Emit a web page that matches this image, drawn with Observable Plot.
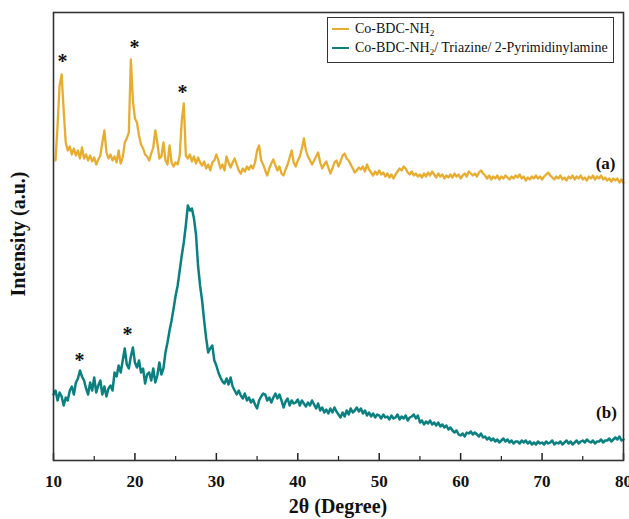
<!DOCTYPE html>
<html><head><meta charset="utf-8">
<script src="https://cdn.jsdelivr.net/npm/d3@7"></script>
<script src="https://cdn.jsdelivr.net/npm/@observablehq/plot@0.6"></script>
<style>
body{margin:0;background:#fff;}
#wrap{position:relative;width:629px;height:519px;overflow:hidden;}
.serif{font-family:"Liberation Serif","Times New Roman",serif;color:#111;}
.legend{position:absolute;left:327px;top:17px;width:287px;height:46px;border:1px solid #333;box-sizing:border-box;background:#fff;font-size:14px;}
.row{position:absolute;left:0;height:18px;display:flex;align-items:center;white-space:nowrap;}
.sw{display:inline-block;width:17px;height:2px;margin-left:4px;margin-right:6px;}
sub{font-size:9px;vertical-align:-3px;line-height:0;}
.ytitle{position:absolute;left:18px;top:234px;transform:translate(-50%,-50%) rotate(-90deg);font-size:20px;font-weight:bold;white-space:nowrap;}
.xtitle{position:absolute;left:338px;top:506px;transform:translate(-50%,-50%);font-size:20px;font-weight:bold;white-space:nowrap;}
</style>
</head><body>
<div id="wrap"></div>
<script>
// Shared 2θ sampling grid (degrees): 10.00, 10.25, ... 80.00 (4 readings per degree)
const twoTheta = d3.range(0, 281).map(i => 10 + i * 0.25);
// Series A: Co-BDC-NH2 intensity (a.u.), one line per degree
const yellowInt = [
null,300,335,375, 386,350,318,310, 314,306,312,305, 310,302,313,302, 306,300,305,299,
303,296,301,305, 318,330,308,302, 306,300,304,298, 310,297,303,318, 322,328,401,360,
342,338,325,316, 312,306,304,300, 307,313,330,318, 302,304,318,300, 296,315,298,294,
298,296,305,340, 357,305,302,306, 299,304,297,303, 298,295,299,292, 296,290,298,300,
306,300,292,296, 290,304,298,293, 298,302,296,290, 287,292,289,294, 291,295,292,298,
310,315,300,296, 290,285,292,297, 301,295,290,294, 287,285,291,296, 303,310,298,294,
300,304,312,322, 310,304,300,296, 300,304,308,298, 292,296,299,293, 287,292,298,300,
294,299,305,307, 302,300,296,292, 288,290,293,291, 294,289,296,291, 288,285,289,286,
290,286,288,284, 287,283,286,282, 286,289,292,290, 294,292,288,286, 289,285,287,284,
286,283,287,284, 288,285,289,286, 283,287,284,286, 282,285,283,286, 283,287,284,286,
282,285,287,284, 289,287,285,287, 284,288,290,287, 285,282,285,281, 284,282,285,281,
284,282,285,283, 281,284,282,285, 283,286,282,284, 280,283,281,284, 282,285,282,284,
281,284,286,288, 285,283,281,284, 282,285,281,283, 280,284,282,285, 281,284,282,285,
281,283,280,284, 282,285,281,284, 282,285,281,283, 280,282,279,282, 280,282,278,281,
278];
// Series B: Co-BDC-NH2/ Triazine/ 2-Pyrimidinylamine intensity (a.u.)
const tealInt = [
66,70,60,68, 64,55,63,60, 70,74,66,78, 82,90,84,80, 72,66,78,70,
83,68,75,80, 66,74,64,72, 75,70,88,84, 95,88,100,112, 96,92,104,113,
98,93,100,88, 92,77,86,88, 80,92,78,85, 98,86,92,108, 118,130,140,152,
165,175,190,205, 218,235,255,250, 252,242,226,195, 175,160,140,122, 108,112,115,100,
95,88,83,79, 77,82,76,83, 74,70,66,70, 65,62,67,60, 63,58,61,56,
52,60,64,67, 66,60,63,58, 63,67,62,66, 60,53,59,62, 55,60,57,58,
61,55,60,57, 54,58,55,60, 56,52,57,50, 53,48,51,47, 52,48,53,49,
46,43,48,44, 50,46,52,48, 50,53,49,52, 47,50,45,48, 44,47,43,46,
45,42,46,43, 44,41,45,42, 43,46,41,44, 42,45,40,43, 44,46,42,45,
38,40,36,39, 37,40,36,38, 35,38,34,36, 33,35,31,33, 30,28,30,26,
25,27,24,28, 27,29,26,28, 26,24,27,23, 24,21,23,20, 22,19,21,18,
20,22,19,21, 18,20,17,19, 19,17,20,18, 20,17,19,16, 18,16,19,17,
18,16,19,17, 18,20,16,18, 17,19,16,18, 20,17,19,16, 18,20,17,19,
20,18,21,19, 18,20,17,19, 19,21,18,20, 20,22,19,21, 23,21,24,20,
21];
// Peak markers (*)
const starDeg = [11.1,19.95,25.85,13.2,19.1];
const starInt = [403,417,372,104,130];
// Curve labels
const tagText = ["(a)","(b)"];
const tagDeg = [77.8,77.9];
const tagInt = [297,48];
const xTicks = [10,20,30,40,50,60,70,80];
const xMinor = [15,25,35,45,55,65,75];
const seriesNames = ["Co-BDC-NH<sub>2</sub>","Co-BDC-NH<sub>2</sub>/ Triazine/ 2-Pyrimidinylamine"];
const seriesColors = ["#E8AC2E","#0B8080"];
const xTitle = "2θ (Degree)";
const yTitle = "Intensity (a.u.)";

const yellow = twoTheta.map((d,i)=>({x:d,y:yellowInt[i]}));
const teal = twoTheta.map((d,i)=>({x:d,y:tealInt[i]}));
const stars = starDeg.map((d,i)=>({x:d,y:starInt[i]}));
const tags = tagText.map((t,i)=>({t,x:tagDeg[i],y:tagInt[i]}));
const serif = '"Liberation Serif","Times New Roman",serif';

const chart = Plot.plot({
  width:629, height:519,
  marginLeft:53, marginRight:6, marginTop:12, marginBottom:59,
  x:{domain:[10,80]},
  y:{domain:[0,448], axis:null},
  style:{fontFamily:serif, background:"#fff", color:"#111", overflow:"visible"},
  marks:[
    Plot.line(yellow,{x:"x",y:"y",stroke:seriesColors[0],strokeWidth:2.3,strokeLinejoin:"round"}),
    Plot.line(teal,{x:"x",y:"y",stroke:seriesColors[1],strokeWidth:2.5,strokeLinejoin:"round"}),
    Plot.ruleX(xTicks,{x:d=>d,y1:0,y2:7,stroke:"#222",strokeWidth:1.5}),
    Plot.ruleX(xMinor,{x:d=>d,y1:0,y2:4,stroke:"#222",strokeWidth:1.2}),
    Plot.frame({stroke:"#333",strokeWidth:1.6}),
    Plot.axisX(xTicks,{tickSize:0,tickPadding:14,tickFormat:d=>String(d),fontSize:17,fontWeight:"bold",fontFamily:serif,label:null}),
    Plot.text(stars,{x:"x",y:"y",text:()=>"*",fontSize:20,fontWeight:"bold",fontFamily:serif,dy:4,fill:"#111"}),
    Plot.text(tags,{x:"x",y:"y",text:"t",fontSize:17,fontWeight:"bold",fontFamily:serif,fill:"#111"})
  ]
});
const wrap = document.getElementById("wrap");
wrap.appendChild(chart);
const leg = document.createElement("div");
leg.className = "legend serif";
seriesNames.forEach((n,i)=>{
  const r = document.createElement("div");
  r.className = "row";
  r.style.top = (i===0 ? 2 : 21) + "px";
  r.innerHTML = `<span class="sw" style="background:${seriesColors[i]}"></span><span>${n}</span>`;
  leg.appendChild(r);
});
wrap.appendChild(leg);
const xt = document.createElement("div"); xt.className = "xtitle serif"; xt.textContent = xTitle; wrap.appendChild(xt);
const yt = document.createElement("div"); yt.className = "ytitle serif"; yt.textContent = yTitle; wrap.appendChild(yt);
</script>
</body></html>
